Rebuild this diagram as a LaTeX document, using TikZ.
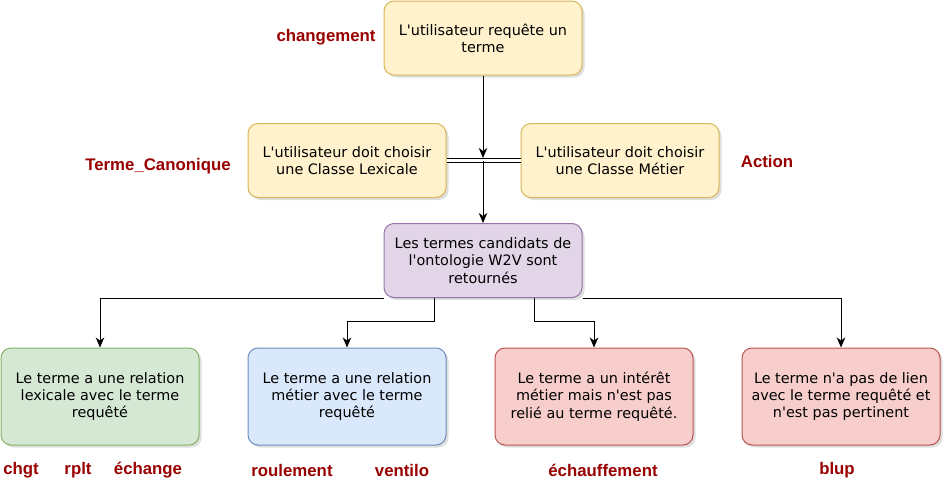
\documentclass[tikz,border=0pt]{standalone}
\usepackage{fontspec}
\setmainfont{DejaVu Sans}[Ligatures=TeXOff]
\newfontfamily\labelfont{Liberation Sans}
\usetikzlibrary{arrows.meta,shadows}

\definecolor{tagred}{HTML}{990000}
\definecolor{yellowfill}{HTML}{FFF2CC}
\definecolor{yellowline}{HTML}{D6B656}
\definecolor{purplefill}{HTML}{E1D5E7}
\definecolor{purpleline}{HTML}{9673A6}
\definecolor{greenfill}{HTML}{D5E8D4}
\definecolor{greenline}{HTML}{82B366}
\definecolor{bluefill}{HTML}{DAE8FC}
\definecolor{blueline}{HTML}{6C8EBF}
\definecolor{redfill}{HTML}{F8CECC}
\definecolor{redline}{HTML}{B85450}

\begin{document}
\begin{tikzpicture}[x=1pt,y=-1pt,->,>={Stealth[length=10pt,width=8.5pt,inset=3pt]},line width=1pt,
	box node/.style={rectangle,rounded corners=10pt,draw,line width=1pt,minimum width=198pt,minimum height=74pt,align=center,
		font=\fontsize{14.4}{17.3}\selectfont,drop shadow={shadow xshift=2.5pt,shadow yshift=-2.5pt,opacity=0.25}},
	yellow node/.style={box node,fill=yellowfill,draw=yellowline},
	purple node/.style={box node,fill=purplefill,draw=purpleline},
	green node/.style={box node,fill=greenfill,draw=greenline,minimum height=97pt},
	blue node/.style={box node,fill=bluefill,draw=blueline,minimum height=97pt},
	red node/.style={box node,fill=redfill,draw=redline,minimum height=97pt},
	tag node/.style={text=tagred,font=\labelfont\bfseries\fontsize{16.8}{20}\selectfont}
]

	\useasboundingbox (0,0) rectangle (945,485);

	\node[yellow node] (query) at (483,38) {L'utilisateur requête un\\terme};
	\node[yellow node] (lexchoice) at (347,160.5) {L'utilisateur doit choisir\\une Classe Lexicale};
	\node[yellow node] (metchoice) at (620,160.5) {L'utilisateur doit choisir\\une Classe Métier};
	\node[purple node] (cand) at (483,260.5) {Les termes candidats de\\l'ontologie W2V sont\\retournés};

	\node[green node] (lex) at (100,396.5) {Le terme a une relation\\lexicale avec le terme\\requêté};
	\node[blue node] (met) at (347,396.5) {Le terme a une relation\\métier avec le terme\\requêté};
	\node[red node] (int) at (594,396.5) {Le terme a un intérêt\\métier mais n'est pas\\relié au terme requêté.};
	\node[red node] (none) at (841,396.5) {Le terme n'a pas de lien\\avec le terme requêté et\\n'est pas pertinent};

	\node[tag node] (changement) at (326,37) {changement};
	\node[tag node] (canon) at (158,166) {Terme\_Canonique};
	\node[tag node] (action) at (767,161) {Action};

	\foreach \x/\t [count=\i] in {21/chgt, 78/rplt, 148/échange, 292/roulement, 402/ventilo, 603/échauffement, 837/blup} {
		\node[tag node] (tag\i) at (\x,470) {\t};
	}

	\coordinate (cross) at (query.south |- lexchoice.east);

	\draw[-,double,double distance=3pt] (lexchoice.east) -- (metchoice.west);
	\draw[->,shorten >=2.5pt] (query) -- (cross);
	\draw[->] (cross) -- (cand);

	\draw[->] (cand.south west) -| (lex);
	\draw[->] ([xshift=-49pt]cand.south) -- ++(0,23) -| (met);
	\draw[->] ([xshift=51pt]cand.south) -- ++(0,23) -| (int);
	\draw[->] (cand.south east) -| (none);
\end{tikzpicture}
\end{document}
